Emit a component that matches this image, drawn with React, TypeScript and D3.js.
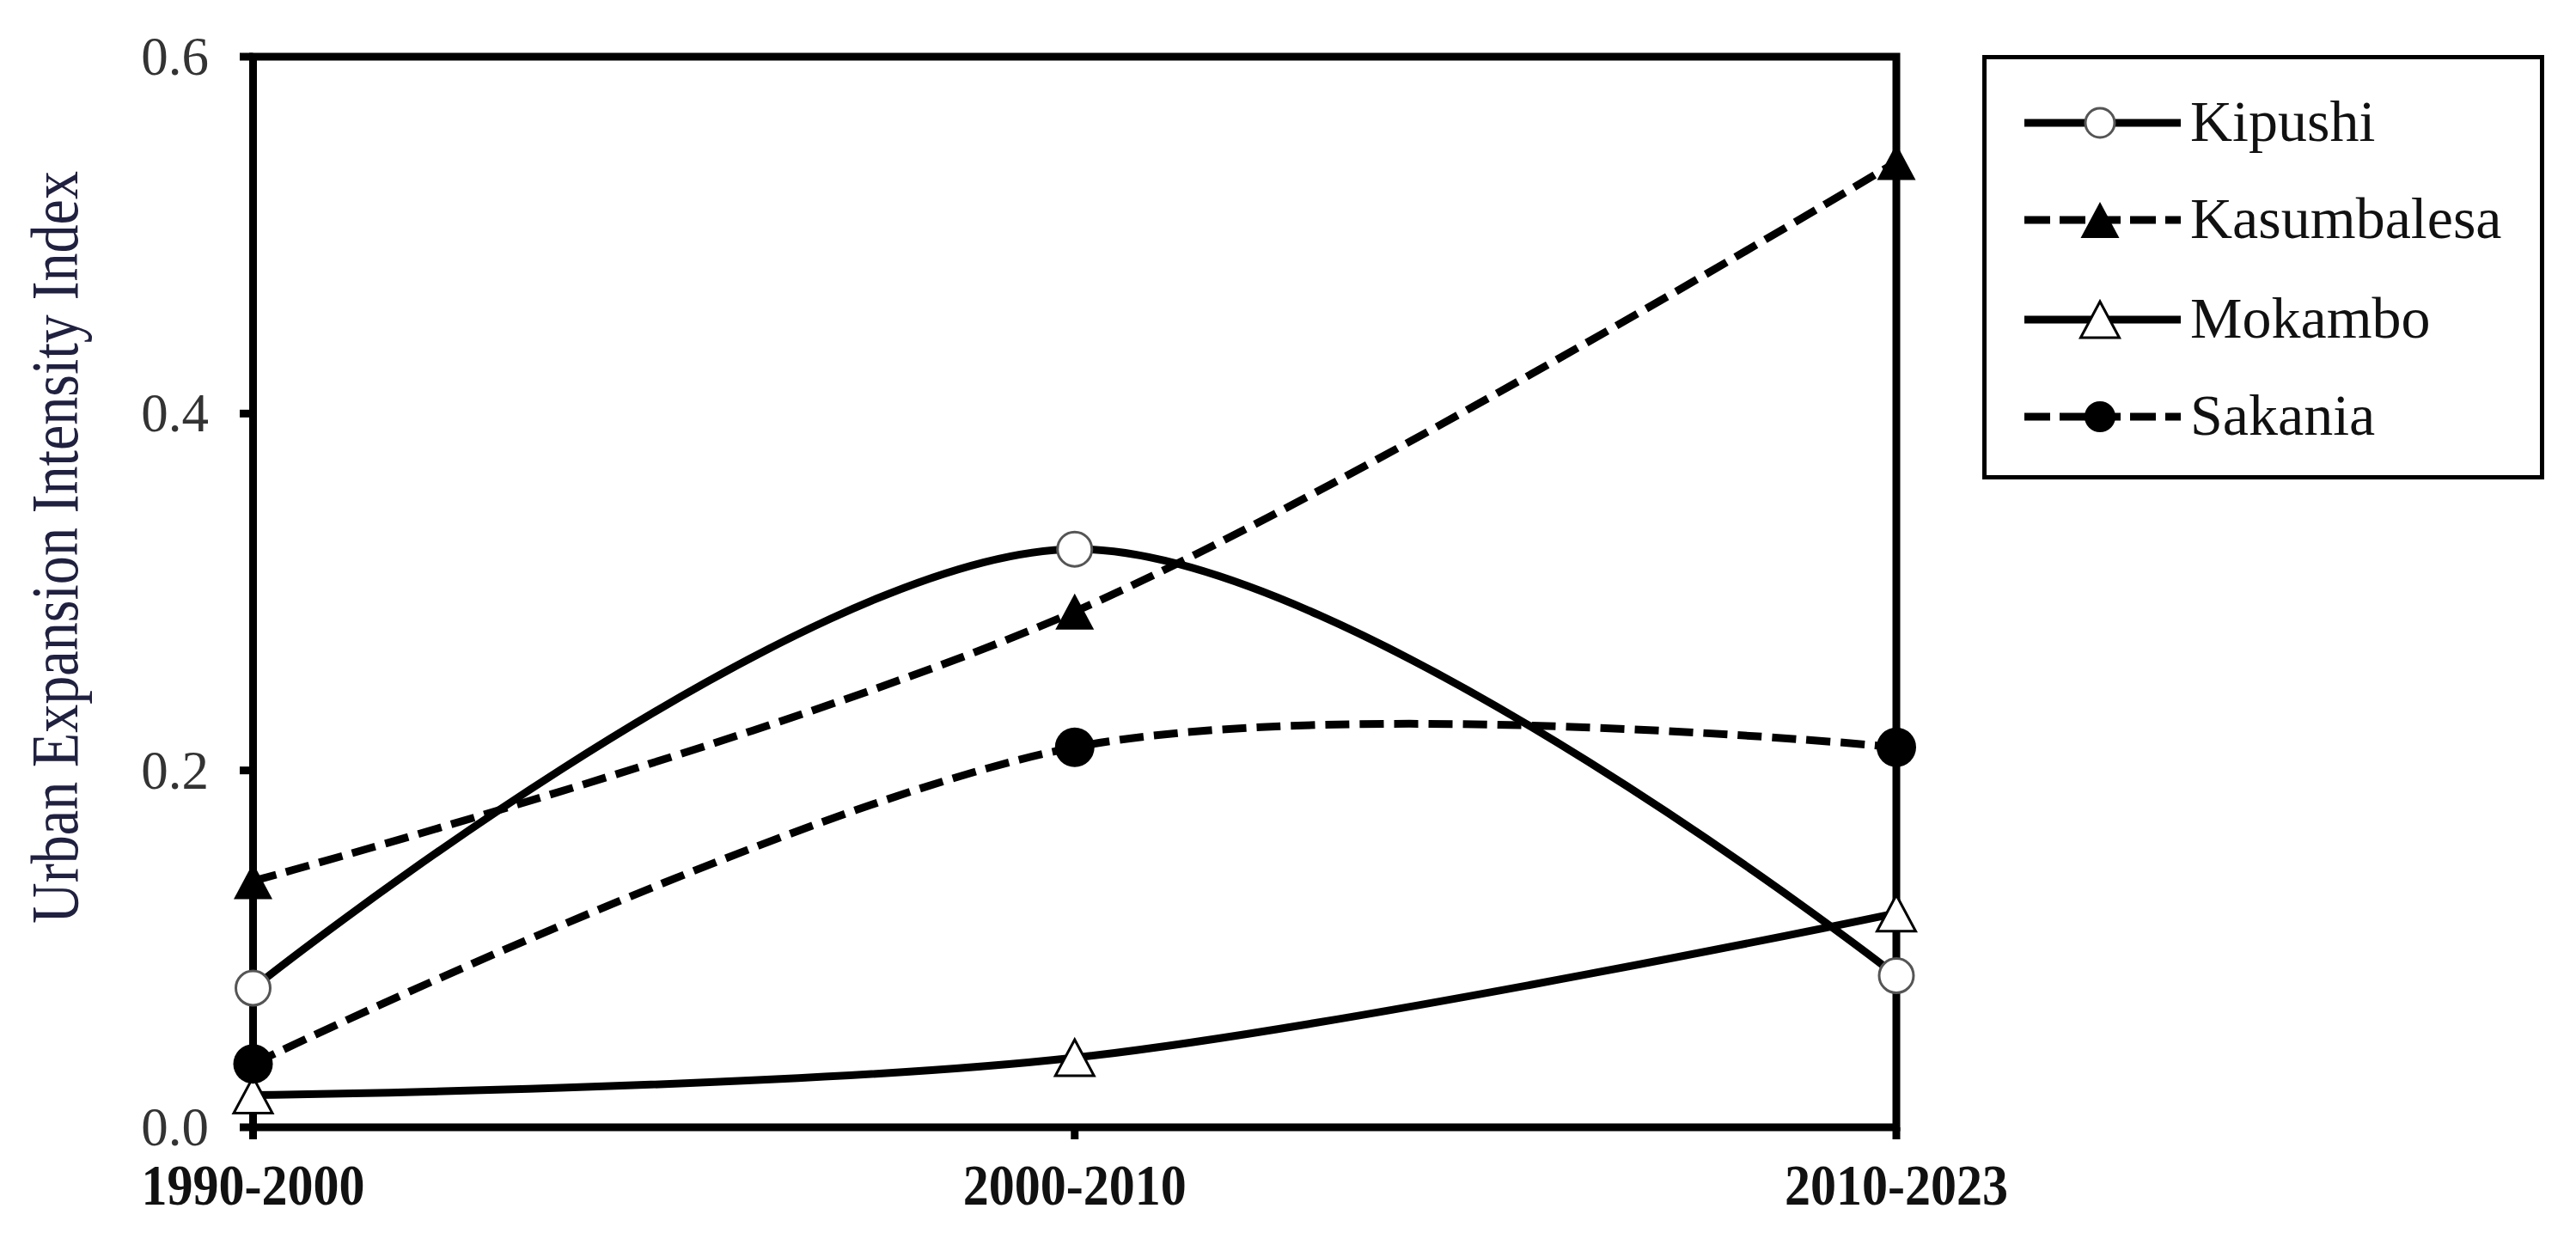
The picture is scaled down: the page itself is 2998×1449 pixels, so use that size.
import React from "react";
import * as d3 from "d3";

const categories = ["1990-2000", "2000-2010", "2010-2023"];
const seriesNames = ["Kipushi", "Kasumbalesa", "Mokambo", "Sakania"];
const kipushi = [0.078, 0.324, 0.085];
const kasumbalesa = [0.138, 0.289, 0.541];
const mokambo = [0.018, 0.039, 0.120];
const sakania = [0.0355, 0.213, 0.213];
const yTicks = [0.0, 0.2, 0.4, 0.6];
const yTitle = "Urban Expansion Intensity Index";

type Marker = "circleOpen" | "triFilled" | "triOpen" | "circleFilled";
const seriesValues = [kipushi, kasumbalesa, mokambo, sakania];
const seriesMarkers: Marker[] = ["circleOpen", "triFilled", "triOpen", "circleFilled"];
const seriesDashed = [false, true, false, true];

const W = 2998;
const H = 1449;
const L = 294.5;
const R = 2207;
const T = 66;
const B = 1312;
const DASH = "28,12";

function MarkerShape({ kind, cx, cy, legend }: { kind: Marker; cx: number; cy: number; legend?: boolean }) {
  if (kind === "circleOpen") {
    const r = legend ? 17 : 20;
    return <circle cx={cx} cy={cy} r={r} fill="#fff" stroke="#555" strokeWidth={3} />;
  }
  if (kind === "circleFilled") {
    const r = legend ? 18 : 23;
    return <circle cx={cx} cy={cy} r={r} fill="#000" />;
  }
  const hw = 22.5;
  const hh = 21;
  const d = `M${cx},${cy - hh}L${cx + hw},${cy + hh}L${cx - hw},${cy + hh}Z`;
  if (kind === "triFilled") return <path d={d} fill="#000" />;
  return <path d={d} fill="#fff" stroke="#000" strokeWidth={3} strokeLinejoin="miter" />;
}

export default function App() {
  const x = d3.scalePoint<string>().domain(categories).range([L, R]);
  const y = d3.scaleLinear().domain([0, 0.6]).range([B, T]);
  const line = d3
    .line<number>()
    .x((_, i) => x(categories[i]) as number)
    .y((v) => y(v))
    .curve(d3.curveCardinal.tension(0));

  const legendRows = [143, 256, 372, 485];
  const axisW = 9;

  return (
    <svg
      width={W}
      height={H}
      style={{ position: "absolute", left: 0, top: 0, background: "#fff" }}
      fontFamily="'Liberation Serif', 'Times New Roman', serif"
    >
      <rect x={0} y={0} width={W} height={H} fill="#fff" />

      {/* plot frame */}
      <rect x={L} y={T} width={R - L} height={B - T} fill="none" stroke="#000" strokeWidth={axisW} />
      {/* y ticks */}
      {yTicks.map((t) => (
        <line key={"yt" + t} x1={279} x2={L} y1={y(t)} y2={y(t)} stroke="#000" strokeWidth={axisW} />
      ))}
      {/* x ticks */}
      {categories.map((c) => (
        <line key={"xt" + c} x1={x(c)} x2={x(c)} y1={B} y2={1326} stroke="#000" strokeWidth={axisW} />
      ))}

      {/* y tick labels */}
      {yTicks.map((t) => (
        <text key={"yl" + t} x={243} y={y(t) + 21} textAnchor="end" fontSize={63} fill="#333">
          {t.toFixed(1)}
        </text>
      ))}
      {/* x labels */}
      {categories.map((c) => (
        <text
          key={"xl" + c}
          x={x(c)}
          y={1402}
          textAnchor="middle"
          fontSize={68}
          fontWeight="bold"
          fill="#111"
          textLength={260}
          lengthAdjust="spacingAndGlyphs"
        >
          {c}
        </text>
      ))}
      {/* y title */}
      <text
        transform={`translate(90,637) rotate(-90)`}
        textAnchor="middle"
        fontSize={78}
        fill="#202040"
        textLength={876}
        lengthAdjust="spacingAndGlyphs"
      >
        {yTitle}
      </text>

      {/* series lines */}
      {seriesValues.map((vals, si) => (
        <path
          key={"ln" + si}
          d={line(vals) || ""}
          fill="none"
          stroke="#000"
          strokeWidth={9}
          strokeDasharray={seriesDashed[si] ? DASH : undefined}
        />
      ))}
      {/* markers */}
      {seriesValues.map((vals, si) =>
        vals.map((v, i) => (
          <MarkerShape key={"m" + si + "-" + i} kind={seriesMarkers[si]} cx={x(categories[i]) as number} cy={y(v)} />
        ))
      )}

      {/* legend */}
      <rect x={2309.5} y={66.5} width={649} height={489} fill="#fff" stroke="#000" strokeWidth={5} />
      {seriesNames.map((name, si) => {
        const ry = legendRows[si];
        return (
          <g key={"lg" + si}>
            <line
              x1={2356}
              x2={2538}
              y1={ry}
              y2={ry}
              stroke="#000"
              strokeWidth={9}
              strokeDasharray={seriesDashed[si] ? "30,11" : undefined}
            />
            <MarkerShape kind={seriesMarkers[si]} cx={2444} cy={ry} legend />
            <text x={2549} y={ry + 21} fontSize={68} fill="#111">
              {name}
            </text>
          </g>
        );
      })}
    </svg>
  );
}
